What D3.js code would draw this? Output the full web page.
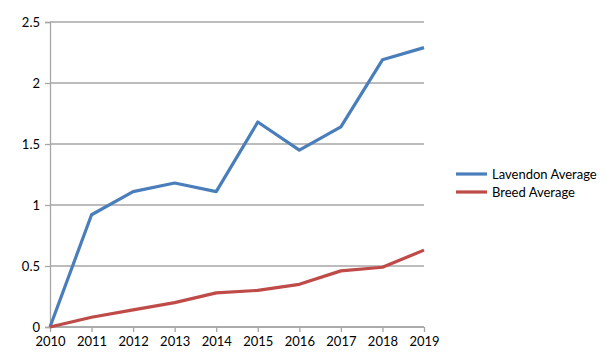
<!DOCTYPE html>
<html lang="en">
<head>
<meta charset="UTF-8">
<title>Lavendon vs Breed</title>
<script src="https://d3js.org/d3.v7.min.js"></script>
<style>
  body { margin: 0; background: #fff; }
  text { font-family: Lato, "Open Sans", sans-serif; font-size: 13px; fill: #000; }
</style>
</head>
<body>
<script>
const years = [2010, 2011, 2012, 2013, 2014, 2015, 2016, 2017, 2018, 2019];
const lavendon = [0, 0.92, 1.11, 1.18, 1.11, 1.68, 1.45, 1.64, 2.19, 2.29];
const breed = [0, 0.08, 0.14, 0.20, 0.28, 0.30, 0.35, 0.46, 0.49, 0.63];
const yTicks = [0, 0.5, 1, 1.5, 2, 2.5];
const seriesNames = ["Lavendon Average", "Breed Average"];
const colors = ["#4a7ebb", "#be4b48"];

const w = 606, h = 353;
const plotLeft = 50, plotRight = 424, plotTop = 22, plotBottom = 327;

const svg = d3.select("body").append("svg")
    .attr("width", w).attr("height", h);

const x = d3.scalePoint().domain(years).range([plotLeft, plotRight]);
const y = d3.scaleLinear().domain([0, 2.5]).range([plotBottom, plotTop]);

// gridlines
svg.append("g")
  .selectAll("line")
  .data(yTicks)
  .join("line")
  .attr("x1", plotLeft).attr("x2", plotRight)
  .attr("y1", d => y(d)).attr("y2", d => y(d))
  .attr("stroke", "#a6a6a6").attr("stroke-width", 1.3);

// y axis
const yAxis = svg.append("g")
  .attr("transform", `translate(${plotLeft},0)`)
  .call(d3.axisLeft(y).tickValues(yTicks).tickSize(5).tickPadding(5).tickFormat(d3.format("")));
yAxis.select(".domain").attr("stroke", "#a6a6a6").attr("stroke-width", 1.3);
yAxis.selectAll(".tick line").attr("stroke", "#a6a6a6").attr("stroke-width", 1.3);
yAxis.selectAll("text").style("font-family", "Lato, 'Open Sans', sans-serif").style("font-size", "13px");

// x axis
const xAxis = svg.append("g")
  .attr("transform", `translate(0,${plotBottom})`)
  .call(d3.axisBottom(x).tickSize(5).tickPadding(5).tickFormat(d3.format("d")));
xAxis.select(".domain").attr("stroke", "#a6a6a6").attr("stroke-width", 1.3).attr("d", `M${plotLeft},0H${plotRight}`);
xAxis.selectAll(".tick line").attr("stroke", "#a6a6a6").attr("stroke-width", 1.3);
xAxis.selectAll("text").style("font-family", "Lato, 'Open Sans', sans-serif").style("font-size", "13px");

// lines
const line = d3.line().x((d, i) => x(years[i])).y(d => y(d));
[lavendon, breed].forEach((s, i) => {
  svg.append("path")
    .datum(s)
    .attr("d", line)
    .attr("fill", "none")
    .attr("stroke", colors[i])
    .attr("stroke-width", 3.2)
    .attr("stroke-linejoin", "round");
});

// legend
const legend = svg.append("g").attr("transform", "translate(456,174)");
seriesNames.forEach((name, i) => {
  const g = legend.append("g").attr("transform", `translate(0,${i * 18})`);
  g.append("line").attr("x1", 0).attr("x2", 31).attr("y1", 0).attr("y2", 0)
    .attr("stroke", colors[i]).attr("stroke-width", 3.2);
  g.append("text").attr("x", 36).attr("y", 0).attr("dy", "0.35em").text(name);
});
</script>
</body>
</html>
